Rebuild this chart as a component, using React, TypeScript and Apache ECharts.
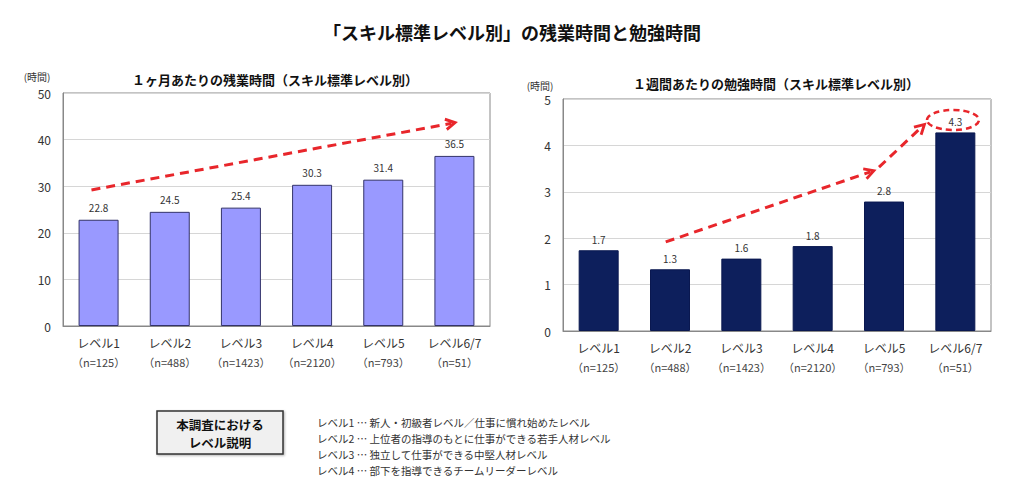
import React, { useEffect, useRef } from "react";
import * as echarts from "echarts";

const categories = ["レベル1", "レベル2", "レベル3", "レベル4", "レベル5", "レベル6/7"];
const sampleSizes = ["125", "488", "1423", "2120", "793", "51"];
const overtimeHours = [22.8, 24.5, 25.4, 30.3, 31.4, 36.5];
const studyHours = [1.74, 1.33, 1.56, 1.83, 2.79, 4.28];
const overtimeTicks = { min: 0, max: 50, interval: 10 };
const studyTicks = { min: 0, max: 5, interval: 1 };
const mainTitle = "「スキル標準レベル別」の残業時間と勉強時間";
const leftTitle = "１ヶ月あたりの残業時間（スキル標準レベル別）";
const rightTitle = "１週間あたりの勉強時間（スキル標準レベル別）";
const unitLabel = "(時間)";
const boxLabel = "本調査における\nレベル説明";
const levelNotes = [
  "レベル1 … 新人・初級者レベル／仕事に慣れ始めたレベル",
  "レベル2 … 上位者の指導のもとに仕事ができる若手人材レベル",
  "レベル3 … 独立して仕事ができる中堅人材レベル",
  "レベル4 … 部下を指導できるチームリーダーレベル",
];
// trend arrows in (category position 0..6, value) coordinates
const overtimeTrend = [[0.4, 29.2], [5.46, 43.5]];
const studyTrendA = [[1.44, 1.92], [4.31, 3.43]];
const studyTrendB = [[4.43, 3.53], [5.03, 4.4]];

const FONT = "'Noto Sans CJK JP', 'Noto Sans', sans-serif";
const RED = "#e8262b";
const CHEVRON = "path://M0,9 L5,0 L10,9 L8,10 L5,4.5 L2,10 Z";

export default function App() {
  const ref = useRef<HTMLDivElement>(null);
  useEffect(() => {
    if (!ref.current) return;
    const chart = echarts.init(ref.current, undefined, { renderer: "svg" });
    const xLabels = categories.map((c, i) => `${c}\n（n=${sampleSizes[i]}）`);
    const catAxis = (gridIndex: number) => ({
      type: "category",
      gridIndex,
      data: xLabels,
      axisTick: { show: false },
      axisLine: { lineStyle: { color: "#888", width: 1 } },
      axisLabel: {
        interval: 0,
        margin: 7,
        fontFamily: FONT,
        color: "#333",
        fontSize: 12,
        lineHeight: 19,
        formatter: (v: string) => {
          const [a, b] = v.split("\n");
          return `{a|${a}}\n{b|${b}}`;
        },
        rich: {
          a: { fontSize: 12, color: "#333", fontFamily: FONT, lineHeight: 19 },
          b: { fontSize: 11, color: "#444", fontFamily: FONT, lineHeight: 19 },
        },
      },
    });
    const hiddenAxis = (gridIndex: number) => ({
      type: "value",
      gridIndex,
      min: 0,
      max: 6,
      show: false,
    });
    const valAxis = (gridIndex: number, t: any) => ({
      type: "value",
      gridIndex,
      min: t.min,
      max: t.max,
      interval: t.interval,
      axisLine: { show: true, lineStyle: { color: "#888" } },
      axisTick: { show: false },
      axisLabel: { margin: 12, fontFamily: FONT, color: "#333", fontSize: 12 },
      splitLine: { lineStyle: { color: "#d6d6d6", width: 1 } },
    });
    const trend = (xAxisIndex: number, yAxisIndex: number, segs: number[][][]) => ({
      type: "line",
      xAxisIndex,
      yAxisIndex,
      data: [],
      silent: true,
      markLine: {
        silent: true,
        animation: false,
        symbol: ["none", CHEVRON],
        symbolSize: [13, 13],
        label: { show: false },
        lineStyle: { color: RED, width: 3, type: [9, 6] },
        emphasis: { disabled: true },
        data: segs.map((s) => [{ coord: s[0] }, { coord: s[1] }]),
      },
    });
    const labelStyle = {
      show: true,
      position: "top",
      fontFamily: FONT,
      fontSize: 10,
      color: "#333",
      formatter: (p: any) => Number(p.value).toFixed(1),
    };
    const gfx: any[] = [
      {
        type: "text",
        x: 512,
        y: 32,
        style: { text: mainTitle, font: `bold 18px ${FONT}`, fill: "#111", align: "center", verticalAlign: "middle" },
      },
      {
        type: "text",
        x: 275,
        y: 79,
        style: { text: leftTitle, font: `bold 13px ${FONT}`, fill: "#111", align: "center", verticalAlign: "middle" },
      },
      {
        type: "text",
        x: 776,
        y: 83,
        style: { text: rightTitle, font: `bold 13px ${FONT}`, fill: "#111", align: "center", verticalAlign: "middle" },
      },
      {
        type: "text",
        x: 37,
        y: 76,
        style: { text: unitLabel, font: `10px ${FONT}`, fill: "#333", align: "center", verticalAlign: "middle" },
      },
      {
        type: "text",
        x: 540,
        y: 85,
        style: { text: unitLabel, font: `10px ${FONT}`, fill: "#333", align: "center", verticalAlign: "middle" },
      },
      {
        type: "rect",
        shape: { x: 157, y: 411, width: 126, height: 43 },
        style: { fill: "#f0f0f0", stroke: "#333", lineWidth: 1.5, shadowBlur: 2, shadowColor: "rgba(0,0,0,0.3)", shadowOffsetX: 1, shadowOffsetY: 1 },
      },
      {
        type: "text",
        x: 220,
        y: 433,
        style: { text: boxLabel, font: `bold 12.5px ${FONT}`, lineHeight: 18, fill: "#111", align: "center", verticalAlign: "middle" },
      },
      {
        type: "ellipse",
        shape: { cx: 953, cy: 120, rx: 26, ry: 10 },
        style: { fill: "none", stroke: RED, lineWidth: 2.5, lineDash: [6, 4] },
      },
      ...levelNotes.map((t, i) => ({
        type: "text",
        x: 317,
        y: 422 + i * 16,
        style: { text: t, font: `10.5px ${FONT}`, fill: "#333", align: "left", verticalAlign: "middle" },
      })),
    ];
    chart.setOption({
      animation: false,
      grid: [
        { left: 63, top: 93, width: 427, height: 233, show: true, borderColor: "#888", borderWidth: 1, containLabel: false },
        { left: 563, top: 99, width: 428, height: 232, show: true, borderColor: "#888", borderWidth: 1, containLabel: false },
      ],
      xAxis: [catAxis(0), hiddenAxis(0), catAxis(1), hiddenAxis(1)],
      yAxis: [valAxis(0, overtimeTicks), valAxis(1, studyTicks)],
      series: [
        {
          type: "bar",
          xAxisIndex: 0,
          yAxisIndex: 0,
          data: overtimeHours,
          barWidth: 40,
          itemStyle: { color: "#9999ff", borderColor: "#33336a", borderWidth: 1 },
          label: { ...labelStyle, distance: 7 },
        },
        trend(1, 0, [overtimeTrend]),
        {
          type: "bar",
          xAxisIndex: 2,
          yAxisIndex: 1,
          data: studyHours,
          barWidth: 40,
          itemStyle: { color: "#0d1f5c", borderColor: "#0a1850", borderWidth: 1 },
          label: { ...labelStyle, distance: 6 },
        },
        trend(3, 1, [studyTrendA, studyTrendB]),
      ],
      graphic: gfx,
    });
    return () => chart.dispose();
  }, []);
  return (
    <div
      ref={ref}
      style={{ position: "fixed", left: 0, top: 0, width: 1024, height: 501, background: "#fff" }}
    />
  );
}
